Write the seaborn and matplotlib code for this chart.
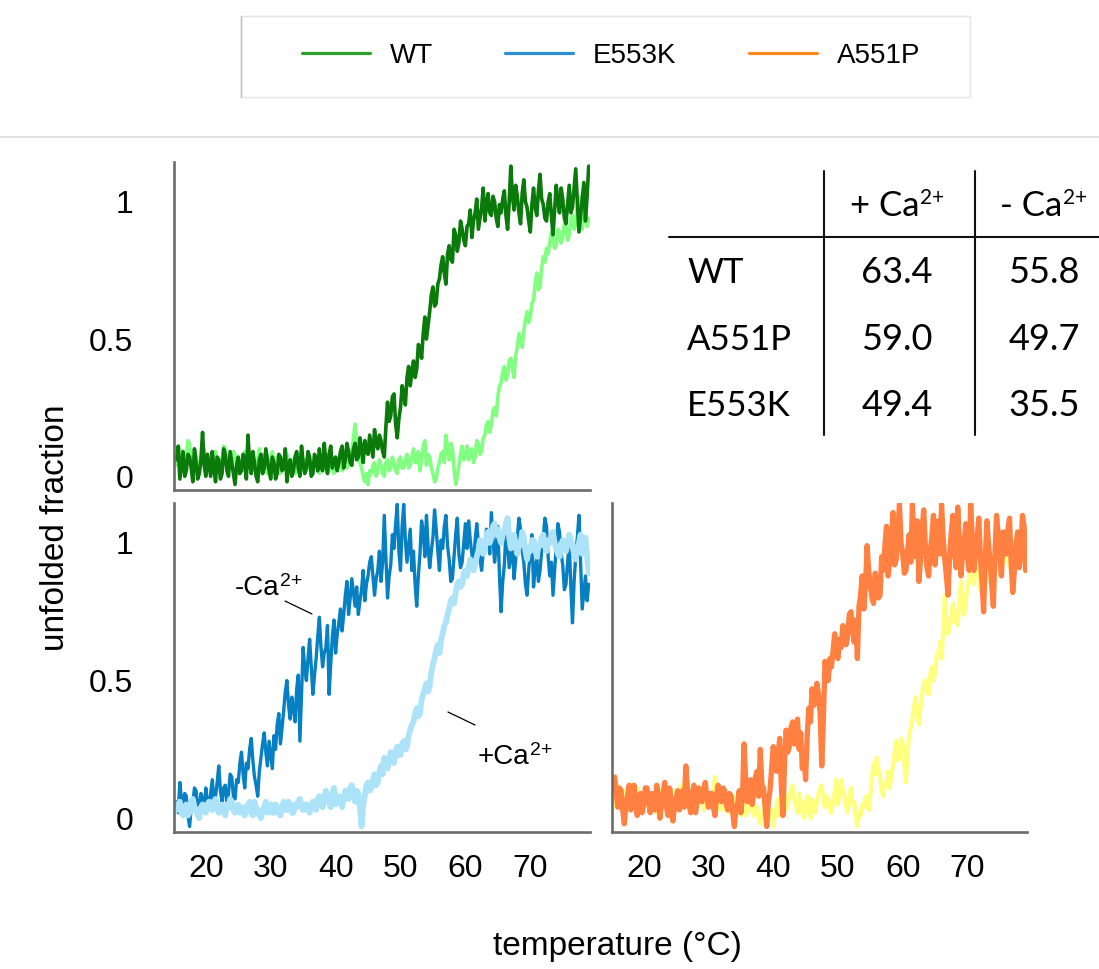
import numpy as np
import matplotlib
matplotlib.use("Agg")
import matplotlib.pyplot as plt
import seaborn as sns
from matplotlib.lines import Line2D
from matplotlib.patches import Rectangle
from matplotlib.ticker import FixedLocator

# temperature grid of the traces (deg C)
TEMP_START = 15.5
TEMP_STEP = 0.25

# unfolded fraction, one value every 0.25 deg C from 15.5 to 79
wt_minus_ca = [
    0.06, 0.11, -0.01, 0.04, 0.09, 0.00, 0.02, 0.08, 0.07, 0.03, -0.02, 0.10, 0.05, -0.01, 0.01, 0.06, 0.16, 0.04, 0.00, 0.08,
    0.04, 0.00, 0.09, 0.03, -0.02, 0.07, 0.06, -0.01, 0.01, 0.10, 0.08, 0.02, 0.00, 0.09, 0.05, 0.01, -0.03, 0.04, 0.07, 0.01,
    0.02, 0.08, 0.06, -0.01, 0.15, 0.05, 0.01, 0.09, 0.05, 0.00, -0.02, 0.06, 0.08, 0.01, 0.03, 0.10, 0.06, 0.02, -0.01, 0.07,
    0.05, -0.01, 0.01, 0.08, 0.07, 0.02, 0.03, 0.10, -0.02, 0.04, 0.06, 0.00, 0.02, 0.07, 0.09, 0.03, 0.00, 0.11, 0.05, 0.01,
    0.03, 0.09, 0.07, 0.00, 0.01, 0.08, 0.06, 0.02, 0.10, 0.04, 0.02, 0.12, 0.05, 0.01, 0.08, 0.11, 0.03, 0.06, 0.07, 0.02,
    0.05, 0.09, 0.11, 0.03, 0.06, 0.12, 0.09, 0.05, 0.04, 0.10, 0.12, 0.06, 0.07, 0.14, 0.10, 0.05, 0.13, 0.09, 0.08, 0.15,
    0.11, 0.07, 0.17, 0.12, 0.10, 0.15, 0.13, 0.09, 0.07, 0.18, 0.27, 0.20, 0.22, 0.29, 0.30, 0.19, 0.14, 0.21, 0.25, 0.33,
    0.30, 0.26, 0.36, 0.40, 0.33, 0.38, 0.42, 0.36, 0.39, 0.48, 0.47, 0.43, 0.52, 0.58, 0.50, 0.55, 0.60, 0.66, 0.69, 0.62,
    0.63, 0.70, 0.72, 0.77, 0.80, 0.74, 0.70, 0.81, 0.84, 0.79, 0.78, 0.90, 0.88, 0.82, 0.85, 0.93, 0.90, 0.86, 0.84, 0.91,
    0.92, 0.97, 0.87, 0.93, 0.96, 1.01, 0.90, 0.94, 0.98, 1.05, 0.93, 0.99, 1.03, 0.96, 0.95, 1.02, 1.00, 0.94, 0.91, 0.99,
    0.96, 1.01, 1.04, 0.95, 0.90, 1.00, 1.13, 1.02, 0.97, 1.06, 1.02, 0.96, 0.92, 1.03, 1.08, 1.00, 0.98, 0.93, 0.89, 0.99,
    1.05, 0.98, 0.95, 1.04, 1.10, 1.01, 0.99, 0.94, 0.93, 1.00, 1.03, 0.95, 0.88, 0.97, 1.06, 1.00, 0.96, 1.05, 1.01, 0.94,
    0.92, 0.99, 1.06, 0.96, 0.98, 1.05, 1.12, 1.00, 0.89, 0.95, 1.01, 1.07, 0.93, 1.02, 1.13,
]
wt_plus_ca = [
    0.04, 0.08, 0.10, 0.05, 0.02, 0.06, 0.07, 0.13, 0.12, 0.04, 0.05, 0.09, 0.08, 0.02, 0.03, 0.07, 0.06, 0.10, 0.01, 0.05,
    0.07, 0.03, 0.04, 0.08, 0.09, 0.04, 0.02, 0.06, 0.06, 0.11, 0.10, 0.05, 0.03, 0.07, 0.05, 0.09, 0.08, 0.03, 0.01, 0.06,
    0.05, 0.02, 0.09, 0.06, 0.03, 0.08, 0.07, 0.03, 0.02, 0.05, 0.06, 0.10, 0.04, 0.01, 0.08, 0.05, 0.01, 0.06, 0.05, 0.09,
    0.03, 0.06, 0.07, 0.02, 0.01, 0.06, 0.05, 0.09, 0.08, 0.04, 0.02, 0.05, 0.06, 0.01, 0.03, 0.08, 0.07, 0.02, 0.04, 0.06,
    0.02, 0.05, 0.06, 0.01, 0.03, 0.07, 0.05, 0.02, 0.01, 0.04, 0.07, 0.03, 0.04, 0.08, 0.02, 0.05, 0.06, 0.01, 0.03, 0.06,
    0.05, 0.08, 0.02, 0.05, 0.07, 0.03, 0.04, 0.09, 0.08, 0.14, 0.19, 0.12, 0.09, 0.05, 0.03, 0.00, -0.02, 0.01, -0.03, 0.02,
    0.01, 0.04, 0.05, 0.00, 0.02, 0.06, 0.04, 0.01, 0.00, 0.05, 0.06, 0.02, 0.03, 0.07, 0.05, 0.02, 0.01, 0.06, 0.07, 0.03,
    0.03, 0.06, 0.08, 0.03, 0.04, 0.07, 0.10, 0.05, 0.05, 0.09, 0.02, 0.06, 0.11, 0.13, 0.04, 0.08, 0.07, 0.03, 0.01, -0.02,
    -0.01, 0.03, 0.05, 0.08, 0.09, 0.05, 0.15, 0.10, 0.06, 0.12, 0.10, 0.03, -0.03, 0.00, 0.04, 0.08, 0.11, 0.06, 0.07, 0.11,
    0.06, 0.09, 0.10, 0.05, 0.07, 0.13, 0.12, 0.08, 0.09, 0.14, 0.15, 0.19, 0.20, 0.16, 0.19, 0.24, 0.25, 0.22, 0.29, 0.33,
    0.34, 0.38, 0.40, 0.35, 0.37, 0.42, 0.43, 0.39, 0.36, 0.44, 0.47, 0.52, 0.50, 0.47, 0.53, 0.57, 0.60, 0.56, 0.58, 0.63,
    0.64, 0.70, 0.74, 0.68, 0.69, 0.76, 0.80, 0.78, 0.83, 0.81, 0.85, 0.89, 0.87, 0.83, 0.84, 0.90, 0.89, 0.85, 0.87, 0.92,
    0.91, 0.86, 0.88, 0.94, 0.95, 0.90, 0.92, 0.99, 1.02, 0.95, 0.90, 0.96, 0.97, 0.91, 0.94,
]
e553k_minus_ca = [
    0.06, 0.02, 0.13, 0.07, 0.02, 0.09, 0.08, 0.01, -0.03, 0.04, 0.05, 0.11, 0.10, 0.04, 0.03, 0.09, 0.07, 0.03, 0.11, 0.06,
    0.04, 0.09, 0.14, 0.06, 0.08, 0.13, 0.19, 0.10, 0.06, 0.11, 0.12, 0.05, 0.09, 0.16, 0.15, 0.08, 0.07, 0.14, 0.13, 0.20,
    0.24, 0.16, 0.11, 0.20, 0.18, 0.25, 0.29, 0.21, 0.15, 0.12, 0.08, 0.17, 0.22, 0.27, 0.31, 0.24, 0.19, 0.28, 0.23, 0.18,
    0.30, 0.25, 0.34, 0.38, 0.27, 0.33, 0.39, 0.46, 0.50, 0.41, 0.36, 0.44, 0.40, 0.35, 0.47, 0.52, 0.28, 0.45, 0.62, 0.54,
    0.50, 0.58, 0.65, 0.55, 0.45, 0.52, 0.58, 0.66, 0.73, 0.62, 0.55, 0.60, 0.62, 0.70, 0.45, 0.56, 0.66, 0.72, 0.60, 0.67,
    0.71, 0.76, 0.68, 0.74, 0.81, 0.86, 0.74, 0.80, 0.87, 0.82, 0.77, 0.84, 0.74, 0.79, 0.83, 0.90, 0.79, 0.85, 0.88, 0.93,
    0.95, 0.88, 0.81, 0.87, 0.90, 0.97, 0.86, 0.93, 1.10, 0.95, 0.80, 0.88, 0.92, 1.03, 0.98, 1.07, 1.14, 0.97, 0.90, 1.06,
    1.14, 1.01, 0.93, 0.99, 1.05, 0.90, 0.97, 0.85, 0.77, 0.88, 0.96, 1.08, 1.04, 0.95, 1.10, 0.99, 0.91, 0.97, 1.02, 1.12,
    1.05, 0.97, 0.90, 1.01, 0.98, 1.06, 1.10, 0.99, 0.94, 0.86, 0.87, 0.95, 1.03, 1.09, 0.96, 0.91, 0.93, 1.00, 1.07, 0.98,
    1.08, 1.01, 0.96, 0.91, 1.01, 1.07, 1.00, 0.94, 0.90, 0.97, 0.98, 1.05, 1.03, 0.96, 1.11, 1.02, 0.93, 0.99, 1.06, 0.88,
    0.75, 0.86, 0.92, 1.04, 1.00, 0.91, 0.95, 0.99, 0.87, 0.94, 1.02, 1.09, 1.05, 0.97, 0.93, 0.85, 0.81, 0.90, 0.97, 1.03,
    0.84, 0.91, 0.94, 0.86, 0.90, 0.97, 1.02, 1.09, 1.06, 0.95, 0.88, 0.93, 0.81, 0.90, 0.99, 1.07, 1.04, 0.96, 0.92, 0.83,
    0.85, 0.93, 1.00, 0.84, 0.71, 0.86, 0.95, 1.02, 1.10, 0.93, 0.76, 0.82, 0.88, 0.79, 0.85,
]
e553k_plus_ca = [
    0.03, 0.05, 0.06, 0.02, 0.01, 0.04, 0.05, 0.01, 0.02, 0.06, 0.07, 0.04, 0.03, 0.01, 0.00, 0.04, 0.05, 0.03, 0.02, 0.05,
    0.06, 0.04, 0.03, 0.05, 0.07, 0.04, 0.02, 0.03, 0.05, 0.02, 0.01, 0.05, 0.04, 0.07, 0.06, 0.03, 0.02, 0.04, 0.05, 0.02,
    0.03, 0.04, 0.01, 0.03, 0.05, 0.06, 0.02, 0.01, 0.06, 0.04, 0.03, 0.01, 0.00, 0.03, 0.04, 0.06, 0.02, 0.03, 0.05, 0.02,
    0.02, 0.05, 0.04, 0.02, 0.01, 0.04, 0.06, 0.03, 0.03, 0.06, 0.05, 0.02, 0.02, 0.05, 0.04, 0.06, 0.07, 0.04, 0.03, 0.05,
    0.05, 0.03, 0.02, 0.05, 0.06, 0.04, 0.03, 0.07, 0.08, 0.05, 0.04, 0.07, 0.10, 0.08, 0.06, 0.04, 0.09, 0.11, 0.05, 0.07,
    0.08, 0.06, 0.04, 0.07, 0.10, 0.08, 0.07, 0.11, 0.12, 0.09, 0.06, 0.10, 0.09, 0.04, -0.03, 0.05, 0.08, 0.12, 0.13, 0.10,
    0.11, 0.14, 0.16, 0.12, 0.13, 0.17, 0.19, 0.16, 0.22, 0.20, 0.18, 0.21, 0.24, 0.22, 0.20, 0.24, 0.26, 0.23, 0.23, 0.27,
    0.28, 0.25, 0.26, 0.30, 0.32, 0.34, 0.35, 0.38, 0.40, 0.37, 0.38, 0.43, 0.45, 0.47, 0.49, 0.46, 0.48, 0.53, 0.56, 0.58,
    0.61, 0.63, 0.60, 0.65, 0.67, 0.70, 0.71, 0.74, 0.76, 0.79, 0.80, 0.78, 0.82, 0.85, 0.86, 0.84, 0.85, 0.89, 0.90, 0.88,
    0.91, 0.94, 0.93, 0.90, 0.92, 0.95, 0.97, 1.01, 1.00, 0.96, 0.98, 1.03, 1.04, 1.00, 1.02, 1.06, 1.07, 1.03, 1.05, 1.02,
    1.00, 1.03, 1.04, 1.07, 1.09, 1.02, 0.98, 1.01, 1.03, 0.99, 0.96, 1.00, 0.99, 1.04, 1.02, 0.97, 0.94, 0.98, 0.97, 1.01,
    1.01, 0.98, 0.95, 0.99, 0.99, 1.02, 1.03, 0.99, 0.97, 1.01, 1.00, 1.03, 1.04, 1.00, 0.98, 0.96, 0.95, 0.99, 1.01, 0.98,
    0.97, 1.00, 1.03, 1.01, 0.99, 0.96, 0.94, 0.98, 1.00, 1.03, 0.96, 0.99, 1.02, 0.95, 0.89,
]
a551p_minus_ca = [
    0.15, 0.09, 0.04, 0.11, 0.10, 0.03, -0.02, 0.05, 0.08, 0.12, 0.03, 0.07, 0.12, 0.06, 0.01, 0.08, 0.09, 0.02, 0.05, 0.11,
    0.11, 0.06, 0.02, 0.09, 0.07, 0.03, 0.12, 0.08, 0.00, 0.05, 0.09, 0.13, 0.04, 0.01, 0.11, 0.06, -0.01, 0.04, 0.07, 0.10,
    0.03, 0.08, 0.10, 0.04, 0.19, 0.11, 0.05, 0.02, 0.08, 0.12, 0.02, 0.06, 0.11, 0.07, 0.06, 0.10, 0.13, 0.08, 0.04, 0.09,
    0.09, 0.04, 0.01, 0.08, 0.12, 0.07, 0.06, 0.11, 0.10, 0.05, 0.03, 0.09, 0.08, 0.02, -0.03, 0.04, 0.05, 0.10, 0.02, 0.08,
    0.27, 0.13, 0.06, 0.10, 0.14, 0.05, 0.09, 0.15, 0.17, 0.08, 0.25, 0.12, 0.11, 0.04, -0.03, 0.06, 0.10, 0.18, 0.26, 0.21,
    0.17, 0.23, 0.29, 0.12, 0.01, 0.20, 0.32, 0.24, 0.26, 0.33, 0.35, 0.27, 0.30, 0.36, 0.25, 0.31, 0.18, 0.24, 0.14, 0.30,
    0.40, 0.35, 0.47, 0.41, 0.42, 0.49, 0.45, 0.38, 0.19, 0.36, 0.57, 0.51, 0.50, 0.58, 0.55, 0.61, 0.67, 0.60, 0.58, 0.65,
    0.62, 0.70, 0.69, 0.63, 0.66, 0.74, 0.75, 0.69, 0.64, 0.72, 0.58, 0.77, 0.81, 0.88, 0.76, 0.84, 0.99, 0.90, 0.85, 0.80,
    0.78, 0.89, 0.86, 0.80, 0.81, 0.95, 0.90, 0.99, 1.06, 0.88, 0.93, 1.01, 1.11, 0.92, 0.94, 1.04, 1.14, 1.00, 0.96, 0.89,
    0.90, 0.97, 1.03, 0.93, 1.14, 1.01, 0.95, 1.08, 0.86, 0.94, 1.05, 1.12, 0.99, 0.91, 0.88, 0.97, 1.02, 1.10, 0.92, 0.99,
    1.08, 0.96, 1.14, 1.02, 0.94, 0.88, 0.81, 0.95, 1.04, 1.10, 0.97, 0.91, 1.13, 1.01, 0.88, 0.96, 1.00, 1.07, 0.95, 0.90,
    1.14, 1.01, 0.90, 0.97, 1.02, 1.09, 0.95, 0.86, 0.75, 0.94, 1.08, 1.00, 0.93, 0.85, 0.77, 0.96, 1.10, 1.03, 0.95, 0.88,
    1.04, 0.97, 0.96, 1.05, 1.09, 0.93, 0.82, 0.90, 0.99, 1.04, 0.91, 0.97, 1.10, 1.06, 0.90,
]
a551p_plus_ca = [
    0.08, 0.04, 0.12, 0.09, 0.05, 0.07, 0.10, 0.06, 0.03, 0.06, 0.09, 0.12, 0.06, 0.03, 0.11, 0.07, 0.04, 0.09, 0.08, 0.05,
    0.10, 0.07, 0.05, 0.08, 0.09, 0.04, 0.02, 0.06, 0.07, 0.10, 0.11, 0.06, 0.04, 0.09, 0.08, 0.03, 0.06, 0.10, 0.03, 0.07,
    0.07, 0.12, 0.10, 0.06, 0.16, 0.09, 0.05, 0.08, 0.09, 0.04, 0.03, 0.07, 0.08, 0.11, 0.06, 0.03, 0.11, 0.07, 0.04, 0.08,
    0.07, 0.10, 0.15, 0.08, 0.05, 0.03, 0.09, 0.06, 0.03, 0.07, 0.06, 0.02, 0.02, 0.05, 0.08, 0.03, 0.04, 0.06, 0.01, 0.04,
    0.05, 0.01, 0.02, 0.06, 0.07, 0.03, 0.01, 0.04, 0.04, 0.00, -0.02, 0.02, 0.03, 0.07, 0.06, 0.02, 0.00, 0.03, -0.03, 0.01,
    0.04, 0.07, 0.01, 0.03, 0.06, 0.09, 0.03, 0.05, 0.08, 0.10, 0.12, 0.07, 0.05, 0.02, 0.09, 0.06, 0.02, 0.00, 0.05, 0.08,
    0.03, 0.00, 0.07, 0.05, 0.02, 0.06, 0.09, 0.11, 0.12, 0.06, 0.04, 0.08, 0.07, 0.03, 0.02, 0.06, 0.10, 0.14, 0.05, 0.09,
    0.14, 0.10, 0.08, 0.04, 0.02, 0.07, 0.11, 0.05, 0.06, 0.01, -0.03, 0.02, 0.01, 0.05, 0.04, 0.08, 0.06, 0.03, 0.08, 0.15,
    0.20, 0.16, 0.22, 0.18, 0.15, 0.10, 0.08, 0.12, 0.13, 0.17, 0.11, 0.15, 0.19, 0.24, 0.28, 0.21, 0.22, 0.29, 0.27, 0.20,
    0.13, 0.24, 0.30, 0.33, 0.36, 0.41, 0.44, 0.38, 0.34, 0.40, 0.45, 0.49, 0.50, 0.47, 0.45, 0.52, 0.55, 0.50, 0.53, 0.59,
    0.60, 0.64, 0.58, 0.68, 0.81, 0.72, 0.67, 0.70, 0.72, 0.78, 0.75, 0.71, 0.70, 0.79, 0.86, 0.80, 0.74, 0.79, 0.83, 0.88,
    0.89, 0.86, 0.85, 0.91, 0.94, 0.88, 0.83, 0.87, 0.88, 0.93, 0.92, 0.89, 0.86, 0.91, 0.95, 0.92, 0.90, 0.95, 0.97, 0.93,
    0.93, 0.97, 0.99, 0.94, 0.91, 0.95, 0.96, 1.01, 1.00, 0.96, 0.94, 0.98, 0.98, 0.93, 0.95,
]

# melting temperatures table
table_mutants = ["WT", "A551P", "E553K"]
tm_plus_ca = [63.4, 59.0, 49.4]
tm_minus_ca = [55.8, 49.7, 35.5]

legend_names = ["WT", "E553K", "A551P"]
legend_colors = ["#2ca02c", "#2b8fd4", "#ff8a1c"]

x_ticks = [20, 30, 40, 50, 60, 70]
y_ticks = [0, 0.5, 1]
y_tick_labels = ["0", "0.5", "1"]


def temps_for(values):
    return TEMP_START + TEMP_STEP * np.arange(len(values))


sns.set_style("white")
plt.rcParams["font.family"] = ["Liberation Sans", "DejaVu Sans"]
plt.rcParams["text.color"] = "black"

W, H = 1099, 969
fig = plt.figure(figsize=(W / 100, H / 100), dpi=100)


def fx(x):
    return x / W


def fy(y):
    return 1 - y / H


GRAY = "#6b6b6b"


def style_panel(ax, xlabels=True, ylabels=True):
    ax.set_xlim(15.1, 79.2)
    ax.set_ylim(-0.05, 1.145)
    for s in ["top", "right"]:
        ax.spines[s].set_visible(False)
    for s in ["left", "bottom"]:
        ax.spines[s].set_color(GRAY)
        ax.spines[s].set_linewidth(1.9)
    ax.set_xticks(x_ticks)
    ax.set_xticklabels([str(t) for t in x_ticks] if xlabels else [])
    ax.set_yticks(y_ticks)
    ax.set_yticklabels(y_tick_labels if ylabels else [])
    ax.yaxis.set_minor_locator(FixedLocator([0.25, 0.75]))
    ax.tick_params(which="both", direction="in", color=GRAY, width=1.6, labelcolor="black")
    ax.tick_params(axis="y", which="major", length=10, pad=29.5, labelsize=23)
    ax.tick_params(axis="y", which="minor", length=7)
    ax.tick_params(axis="x", which="major", length=9.5, pad=16, labelsize=23)
    ax.set_xlabel("")
    ax.set_ylabel("")
    ax.patch.set_alpha(0)


# WT panel
ax_wt = fig.add_axes([fx(174), fy(490), fx(590) - fx(174), fy(162) - fy(490)])
sns.lineplot(x=temps_for(wt_plus_ca), y=wt_plus_ca, ax=ax_wt, color="#80ff80", linewidth=2.6)
sns.lineplot(x=temps_for(wt_minus_ca), y=wt_minus_ca, ax=ax_wt, color="#0a7a0a", linewidth=2.6)
style_panel(ax_wt, xlabels=False)

# E553K panel
ax_e = fig.add_axes([fx(174), fy(832), fx(590) - fx(174), fy(503) - fy(832)])
sns.lineplot(x=temps_for(e553k_minus_ca), y=e553k_minus_ca, ax=ax_e, color="#0680c2", linewidth=2.4)
sns.lineplot(x=temps_for(e553k_plus_ca), y=e553k_plus_ca, ax=ax_e, color="#ade3f8", linewidth=4.2)
style_panel(ax_e)

# A551P panel
ax_a = fig.add_axes([fx(612), fy(832), fx(1027) - fx(612), fy(503) - fy(832)])
sns.lineplot(x=temps_for(a551p_plus_ca), y=a551p_plus_ca, ax=ax_a, color="#ffff80", linewidth=3.0)
sns.lineplot(x=temps_for(a551p_minus_ca), y=a551p_minus_ca, ax=ax_a, color="#ff8040", linewidth=3.8)
style_panel(ax_a, ylabels=False)


def with_sup(x, y, main, sup, size, sup_size, ha="left", family=None):
    kw = {} if family is None else {"family": family}
    t = fig.text(fx(x), fy(y), main, fontsize=size, ha=ha, va="baseline", **kw)
    plt.annotate(sup, xy=(1, 1), xycoords=t, xytext=(0.6, 1.5), textcoords="offset points",
                 fontsize=sup_size, ha="left", va="top", annotation_clip=False, **kw)
    return t


# annotations in E553K panel
with_sup(235, 595, "-Ca", "2+", 20, 14)
with_sup(478, 764, "+Ca", "2+", 20, 14)
fig.add_artist(Line2D([fx(285), fx(312)], [fy(601), fy(614)], color="black", lw=0.9))
fig.add_artist(Line2D([fx(448), fx(475)], [fy(712), fy(725)], color="black", lw=0.9))

# axis titles
fig.text(fx(56), fy(528), "unfolded fraction", rotation=90, ha="center", va="center", fontsize=24)
fig.text(fx(617), fy(947), "temperature (°C)", ha="center", va="center", fontsize=24)

# legend box on top
fig.add_artist(Rectangle((fx(241), fy(97)), fx(970) - fx(241), fy(16) - fy(97),
                         transform=fig.transFigure, facecolor="white", edgecolor="#e4e4e4", lw=1))
fig.add_artist(Line2D([fx(241), fx(241)], [fy(16), fy(97)], color="#bdbdbd", lw=1))
fig.add_artist(Line2D([0, 1], [fy(137), fy(137)], color="#dadada", lw=1.2))
handles = [Line2D([], [], color=c, lw=2.3) for c in legend_colors]
leg = fig.legend(handles, legend_names, ncol=3, loc="center", bbox_to_anchor=(fx(611), fy(56)),
                 frameon=False, fontsize=20, handlelength=2.45, handletextpad=0.72,
                 columnspacing=2.6, borderpad=0)
for t in leg.get_texts():
    t.set_color("black")

# Tm table
tfont = ["Lato", "DejaVu Sans"]
fig.add_artist(Line2D([fx(669), 1], [fy(237), fy(237)], color="#111111", lw=1.5))
for xl in (824, 975):
    fig.add_artist(Line2D([fx(xl), fx(xl)], [fy(171), fy(435)], color="#111111", lw=1.5))
with_sup(850, 216, "+ Ca", "2+", 25, 15, family=tfont)
with_sup(1000, 216, "- Ca", "2+", 25, 15, family=tfont)
for i, name in enumerate(table_mutants):
    yb = 283 + 66.5 * i
    fig.text(fx(687), fy(yb), name, ha="left", va="baseline", fontsize=25, family=tfont)
    fig.text(fx(897), fy(yb), f"{tm_plus_ca[i]:.1f}", ha="center", va="baseline", fontsize=26, family=tfont)
    fig.text(fx(1044), fy(yb), f"{tm_minus_ca[i]:.1f}", ha="center", va="baseline", fontsize=26, family=tfont)

fig.savefig("out.png", dpi=100)
